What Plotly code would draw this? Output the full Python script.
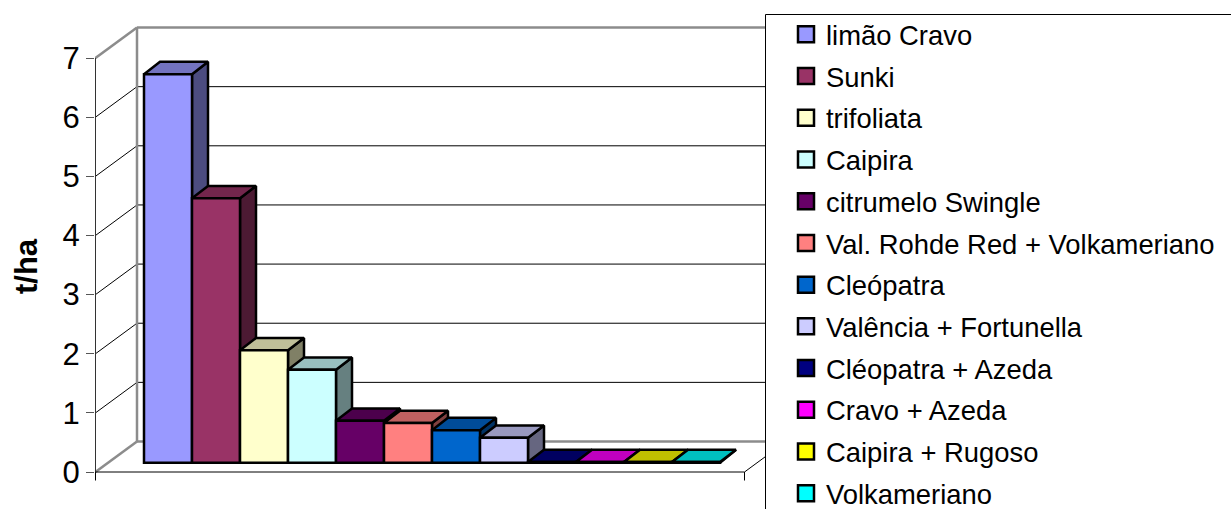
import plotly.graph_objects as go

categories = ["limão Cravo", "Sunki", "trifoliata", "Caipira", "citrumelo Swingle",
              "Val. Rohde Red + Volkameriano", "Cleópatra", "Valência + Fortunella",
              "Cléopatra + Azeda", "Cravo + Azeda", "Caipira + Rugoso", "Volkameriano"]
values = [6.57, 4.47, 1.90, 1.57, 0.71, 0.67, 0.55, 0.42, 0.01, 0.01, 0.01, 0.01]
colors = ["#9999FF", "#993366", "#FFFFCC", "#CCFFFF", "#660066", "#FF8080",
          "#0066CC", "#CCCCFF", "#000080", "#FF00FF", "#FFFF00", "#00FFFF"]
y_ticks = [0, 1, 2, 3, 4, 5, 6, 7]

W, H = 1231, 509
PX_X, PX_Y = 48.0, 59.14      # pixels per category / per t/ha
X0_PX, Y0_PX = 144.0, 472.0   # where x=0 and y=0 fall on the page
L, R_PX, T, B_PX = 95, 765, 26, 490
x_range = [(L - X0_PX) / PX_X, (R_PX - X0_PX) / PX_X]
y_range = [(Y0_PX - B_PX) / PX_Y, (Y0_PX - T) / PX_Y]

AX_X = (95.5 - X0_PX) / PX_X      # front-left corner of the floor
AX_END = (744.5 - X0_PX) / PX_X   # front-right corner of the floor
WALL_DX, WALL_DY = 41.5 / PX_X, 30.5 / PX_Y
BAR_DX, BAR_DY = 16 / PX_X, 12.3 / PX_Y
BASE = 9.3 / PX_Y
EDGE = 2.5


def shade(hex_color, f):
    r, g, b = (int(hex_color[i:i + 2], 16) for i in (1, 3, 5))
    return f"rgb({round(r * f)},{round(g * f)},{round(b * f)})"


fig = go.Figure()

# side and top faces of the bars, back to front
for i, (name, v, c) in enumerate(zip(categories, values, colors)):
    t = BASE + v
    fig.add_trace(go.Scatter(
        x=[i + 1, i + 1 + BAR_DX, i + 1 + BAR_DX, i + 1, i + 1],
        y=[BASE, BASE + BAR_DY, t + BAR_DY, t, BASE],
        mode="lines", fill="toself", fillcolor=shade(c, 0.5),
        line=dict(color="black", width=EDGE), showlegend=False, hoverinfo="skip"))
    fig.add_trace(go.Scatter(
        x=[i, i + 1, i + 1 + BAR_DX, i + BAR_DX, i],
        y=[t, t, t + BAR_DY, t + BAR_DY, t],
        mode="lines", fill="toself", fillcolor=shade(c, 0.75),
        line=dict(color="black", width=EDGE), showlegend=False, hoverinfo="skip"))

# front faces, on an overlaying pair of axes so they cover the neighbouring side faces
for i, (name, v, c) in enumerate(zip(categories, values, colors)):
    fig.add_trace(go.Bar(
        x=[i], y=[v], base=BASE, width=1, offset=0, name=name,
        marker=dict(color=c, line=dict(color="black", width=EDGE)),
        xaxis="x2", yaxis="y2", showlegend=False))

# legend keys
for name, c in zip(categories, colors):
    fig.add_trace(go.Scatter(
        x=[None], y=[None], mode="markers", name=name, legendgroup=name,
        marker=dict(symbol="square", size=16, color=c, line=dict(color="black", width=2.5))))

GREY = "#8C8C8C"
shapes = []


def seg(x0, y0, x1, y1, color="black", width=1):
    shapes.append(dict(type="line", xref="x", yref="y", x0=x0, y0=y0, x1=x1, y1=y1,
                       layer="below", line=dict(color=color, width=width)))


bx = AX_X + WALL_DX
for k in y_ticks:
    edge = k in (0, 7)
    col, w = (GREY, 2.5) if edge else ("black", 1)
    seg(AX_X, k, bx, k + WALL_DY, col, w)
    seg(bx, k + WALL_DY, x_range[1], k + WALL_DY, col, w)
seg(bx, WALL_DY, bx, 7 + WALL_DY, GREY, 2.5)
seg(AX_X, 0, AX_X, 7, "#333333", 1)
seg(AX_X, 0, AX_END, 0, "black", 1)
seg(AX_END, 0, AX_END + WALL_DX, WALL_DY, "black", 1)
for xx in (AX_X, AX_END):
    seg(xx, 0, xx, -8.5 / PX_Y, "black", 1)

plot_w, plot_h = R_PX - L, B_PX - T
# legend frame, running off the page on the right and bottom
shapes.append(dict(type="rect", xref="paper", yref="paper", layer="above",
                   x0=(765.5 - L) / plot_w, x1=(W + 20 - L) / plot_w,
                   y0=(B_PX - (H + 20)) / plot_h, y1=(B_PX - 14.5) / plot_h,
                   fillcolor="white", line=dict(color="black", width=1)))

fig.update_layout(
    width=W, height=H, autosize=False,
    margin=dict(l=L, r=W - R_PX, t=T, b=H - B_PX, pad=0),
    paper_bgcolor="white", plot_bgcolor="white",
    font=dict(family="Liberation Sans, Arial, sans-serif", color="black"),
    barmode="overlay",
    shapes=shapes,
    xaxis=dict(range=x_range, visible=False, fixedrange=True),
    yaxis=dict(range=y_range, tickvals=y_ticks, ticks="outside", ticklen=8, tickwidth=1,
               tickcolor="#555555", showgrid=False, zeroline=False, showline=False,
               tickfont=dict(size=31), ticklabelstandoff=0, fixedrange=True),
    xaxis2=dict(range=x_range, overlaying="x", visible=False, fixedrange=True),
    yaxis2=dict(range=y_range, overlaying="y", visible=False, fixedrange=True),
    legend=dict(xref="container", yref="container", x=786 / W, y=1 - 10 / H,
                xanchor="left", yanchor="top", font=dict(size=27.4),
                tracegroupgap=3.1, bgcolor="rgba(0,0,0,0)", borderwidth=0,
                itemclick=False, itemdoubleclick=False, maxheight=600),
    annotations=[dict(text="<b>t/ha</b>", xref="paper", yref="paper", textangle=-90,
                      x=(26 - L) / plot_w, y=(B_PX - 266) / plot_h, showarrow=False,
                      xanchor="center", yanchor="middle", font=dict(size=31))],
)

fig.write_html("out.html", config=dict(displayModeBar=False),
               post_script="document.body.style.margin='0';document.documentElement.style.overflow='hidden';")
